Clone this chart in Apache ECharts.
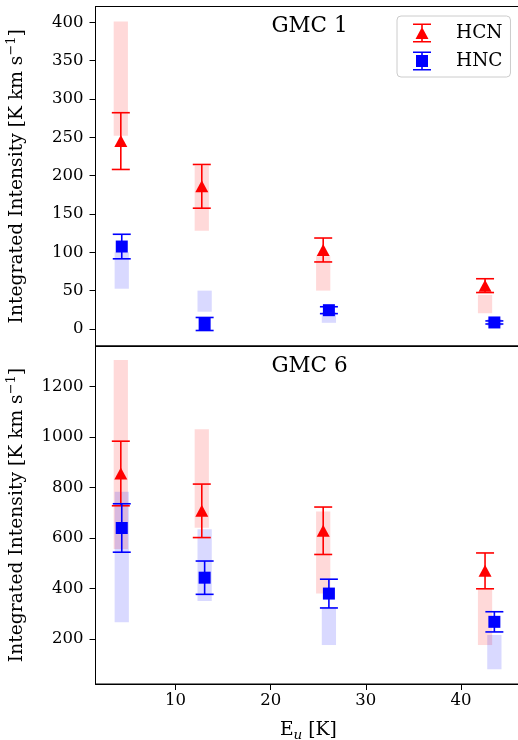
<!DOCTYPE html>
<html><head><meta charset="utf-8">
<script src="https://cdn.jsdelivr.net/npm/echarts@6/dist/echarts.min.js"></script>
<style>html,body{margin:0;padding:0;background:#fff}#c{width:518px;height:740px}</style>
</head><body><div id="c"></div>
<script>
// Upper-level energies (K)
const euHCN = [4.25, 12.76, 25.52, 42.53];
const euHNC = [4.35, 13.06, 26.12, 43.51];
// GMC 1 observed integrated intensities and errors
const g1HCN = [245, 186, 103, 56.5];
const g1HCNerr = [37, 28.5, 15.6, 9];
const g1HNC = [107.5, 6.5, 24.5, 8.5];
const g1HNCerr = [16, 8.5, 4.5, 2];
// GMC 1 model ranges [low, high]
const g1HCNrange = [[252, 401], [128, 213], [50, 95], [20.5, 44.5]];
const g1HNCrange = [[52.5, 100], [22.5, 50], [8, 22], [4, 13]];
// GMC 6 observed integrated intensities and errors
const g6HCN = [856, 708, 629, 470];
const g6HCNerr = [128, 106, 94, 71];
const g6HNC = [640, 443, 380, 268];
const g6HNCerr = [96, 66, 57, 40];
// GMC 6 model ranges [low, high]
const g6HCNrange = [[557, 1306], [641, 1031], [380, 705], [176, 400]];
const g6HNCrange = [[266, 784], [351, 635], [176, 325], [80, 216]];
// Tick labels
const xTicks = [10, 20, 30, 40];
const y1Ticks = [0, 50, 100, 150, 200, 250, 300, 350, 400];
const y2Ticks = [200, 400, 600, 800, 1000, 1200];
const panelTitles = ['GMC 1', 'GMC 6'];
const legendNames = ['HCN', 'HNC'];

const FONT = 'DejaVu Serif';
const RED = '#ff0000', BLUE = '#0000ff';
const RED_FILL = 'rgba(255,0,0,0.15)', BLUE_FILL = 'rgba(0,0,255,0.15)';
const HALFW = 0.75;

const chart = echarts.init(document.getElementById('c'), null, {renderer: 'canvas'});

function errRender(color) {
  return function (params, api) {
    const x = api.value(0), y = api.value(1), e = api.value(2);
    const top = api.coord([x, y + e]), bot = api.coord([x, y - e]);
    const cw = 9;
    const style = {stroke: color, lineWidth: 1.6, fill: null};
    return {type: 'group', children: [
      {type: 'line', shape: {x1: top[0], y1: top[1], x2: bot[0], y2: bot[1]}, style: style},
      {type: 'line', shape: {x1: top[0] - cw, y1: top[1], x2: top[0] + cw, y2: top[1]}, style: style},
      {type: 'line', shape: {x1: bot[0] - cw, y1: bot[1], x2: bot[0] + cw, y2: bot[1]}, style: style}
    ]};
  };
}
function rangeRender(color) {
  return function (params, api) {
    const x = api.value(0), lo = api.value(1), hi = api.value(2);
    const p1 = api.coord([x - HALFW, hi]), p2 = api.coord([x + HALFW, lo]);
    return {type: 'rect', shape: {x: p1[0], y: p1[1], width: p2[0] - p1[0], height: p2[1] - p1[1]},
      style: {fill: color}};
  };
}
const zip3 = (xs, a, b) => xs.map((x, i) => [x, a[i], b[i]]);
const zipR = (xs, r) => xs.map((x, i) => [x, r[i][0], r[i][1]]);
const zip2 = (xs, a) => xs.map((x, i) => [x, a[i]]);

function panelSeries(gi, hcn, hcnErr, hnc, hncErr, hcnR, hncR) {
  const ax = {xAxisIndex: gi, yAxisIndex: gi};
  return [
    Object.assign({type: 'custom', renderItem: rangeRender(RED_FILL), data: zipR(euHCN, hcnR), encode: {x: 0, y: [1, 2]}, z: 1, silent: true}, ax),
    Object.assign({type: 'custom', renderItem: rangeRender(BLUE_FILL), data: zipR(euHNC, hncR), encode: {x: 0, y: [1, 2]}, z: 1, silent: true}, ax),
    Object.assign({type: 'custom', renderItem: errRender(RED), data: zip3(euHCN, hcn, hcnErr), encode: {x: 0, y: 1}, z: 3, silent: true}, ax),
    Object.assign({type: 'scatter', name: legendNames[0], symbol: 'triangle', symbolSize: [13, 12], itemStyle: {color: RED, opacity: 1}, data: zip2(euHCN, hcn), z: 4, silent: true}, ax),
    Object.assign({type: 'custom', renderItem: errRender(BLUE), data: zip3(euHNC, hnc, hncErr), encode: {x: 0, y: 1}, z: 5, silent: true}, ax),
    Object.assign({type: 'scatter', name: legendNames[1], symbol: 'rect', symbolSize: [12, 12], itemStyle: {color: BLUE, opacity: 1}, data: zip2(euHNC, hnc), z: 6, silent: true}, ax)
  ];
}

const hcnIcon = 'path://M0,0H18V1.6H0Z M0,17.4H18V19H0Z M8.2,1.6H9.8V17.4H8.2Z M9,3.5L15.5,15.5L2.5,15.5Z';
const hncIcon = 'path://M0,0H18V1.6H0Z M0,17.4H18V19H0Z M8.2,1.6H9.8V17.4H8.2Z M3,3.5H15V15.5H3Z';

const yName = 'Integrated Intensity [K km s{sup|\u22121}]';
const nameRich = {sup: {fontFamily: FONT, fontSize: 13, verticalAlign: 'top', lineHeight: 15, color: '#000'}};
const plain = v => String(v);

function yAxisCfg(gi, min, max, ticks) {
  return {
    type: 'value', gridIndex: gi, min: min, max: max,
    splitLine: {show: false},
    axisLine: {show: true, onZero: false, lineStyle: {color: '#000', width: 1}},
    axisTick: {show: true, length: 6, customValues: ticks, lineStyle: {color: '#000', width: 1}},
    axisLabel: {show: true, customValues: ticks, margin: 12, fontFamily: FONT, fontSize: 16.5, color: '#000', formatter: plain},
    name: yName, nameLocation: 'middle', nameRotate: 90, nameGap: 66,
    nameTextStyle: {fontFamily: FONT, fontSize: 18.7, color: '#000', lineHeight: 24, rich: nameRich}
  };
}
function xAxisCfg(gi, showLabels) {
  const cfg = {
    type: 'value', gridIndex: gi, min: 1.59, max: 46.33,
    splitLine: {show: false},
    axisLine: {show: true, onZero: false, lineStyle: {color: '#000', width: 1}},
    axisTick: {show: true, length: 6, customValues: xTicks, lineStyle: {color: '#000', width: 1}},
    axisLabel: {show: showLabels, customValues: xTicks, margin: 8, fontFamily: FONT, fontSize: 16.5, color: '#000', formatter: plain}
  };
  if (showLabels) {
    cfg.name = 'E{sub|u} [K]';
    cfg.nameLocation = 'middle';
    cfg.nameGap = 34;
    cfg.nameTextStyle = {fontFamily: FONT, fontSize: 18.7, color: '#000', lineHeight: 24,
      rich: {sub: {fontFamily: FONT, fontSize: 13.5, fontStyle: 'italic', verticalAlign: 'bottom', lineHeight: 15, color: '#000'}}};
  } else {
    cfg.axisTick.show = false;
  }
  return cfg;
}

const option = {
  animation: false,
  backgroundColor: '#fff',
  textStyle: {fontFamily: FONT},
  grid: [
    {left: 95.5, top: 6.5, width: 425.7, height: 339.5, show: true, borderColor: '#000', borderWidth: 1, backgroundColor: 'transparent', outerBoundsMode: 'none', containLabel: false},
    {left: 95.5, top: 346, width: 425.7, height: 338, show: true, borderColor: '#000', borderWidth: 1, backgroundColor: 'transparent', outerBoundsMode: 'none', containLabel: false}
  ],
  xAxis: [xAxisCfg(0, false), xAxisCfg(1, true)],
  yAxis: [yAxisCfg(0, -22.2, 420.5, y1Ticks), yAxisCfg(1, 21.6, 1361.3, y2Ticks)],
  legend: {
    orient: 'vertical', left: 397, top: 16,
    data: [{name: legendNames[0], icon: hcnIcon}, {name: legendNames[1], icon: hncIcon}],
    itemWidth: 18, itemHeight: 19, itemGap: 9,
    padding: [7.5, 8, 6.5, 16],
    borderColor: '#cccccc', borderWidth: 1, borderRadius: 4, backgroundColor: '#fff',
    textStyle: {fontFamily: FONT, fontSize: 18.5, color: '#000', padding: [0, 0, 0, 20]},
    selectedMode: false
  },
  graphic: [
    {type: 'text', x: 309.5, y: 26, style: {text: panelTitles[0], font: '21.5px "DejaVu Serif"', fill: '#000', textAlign: 'center', textVerticalAlign: 'middle'}, z: 10},
    {type: 'text', x: 309.5, y: 366.5, style: {text: panelTitles[1], font: '21.5px "DejaVu Serif"', fill: '#000', textAlign: 'center', textVerticalAlign: 'middle'}, z: 10}
  ],
  series: [].concat(
    panelSeries(0, g1HCN, g1HCNerr, g1HNC, g1HNCerr, g1HCNrange, g1HNCrange),
    panelSeries(1, g6HCN, g6HCNerr, g6HNC, g6HNCerr, g6HCNrange, g6HNCrange)
  )
};
chart.setOption(option);
</script></body></html>
